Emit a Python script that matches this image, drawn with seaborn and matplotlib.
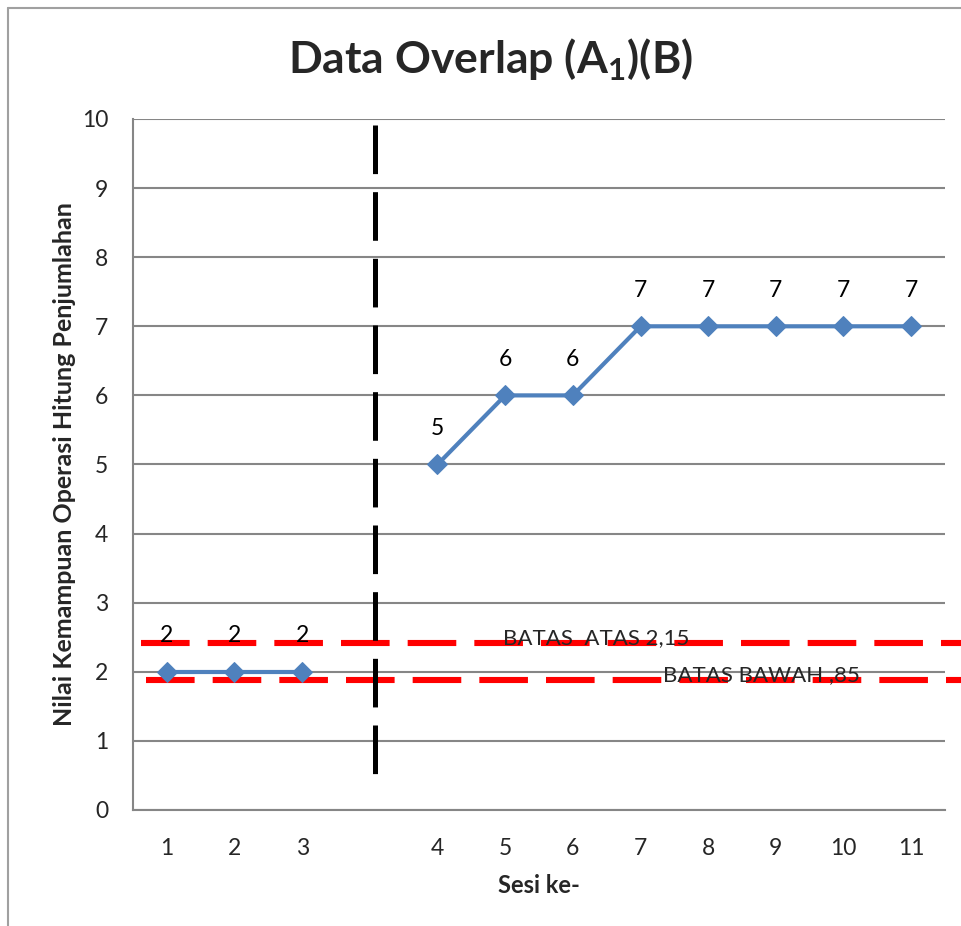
import numpy as np
import pandas as pd
import matplotlib
matplotlib.use("Agg")
import matplotlib.pyplot as plt
import seaborn as sns
from matplotlib.lines import Line2D

# ---- data ----
session_labels = ["1", "2", "3", "", "4", "5", "6", "7", "8", "9", "10", "11"]
scores = [2, 2, 2, np.nan, 5, 6, 6, 7, 7, 7, 7, 7]
phase = ["A1", "A1", "A1", "gap", "B", "B", "B", "B", "B", "B", "B", "B"]
upper_limit = 2.42
lower_limit = 1.88
upper_label = "BATAS  ATAS 2,15"
lower_label = "BATAS BAWAH ,85"
phase_divider = 3.08
title = "Data Overlap (A$_{\\mathbf{1}}$)(B)"
xlabel = "Sesi ke-"
ylabel = "Nilai Kemampuan Operasi Hitung Penjumlahan"

sns.set_style("white")
plt.rcParams["font.family"] = ["Lato", "DejaVu Sans"]
plt.rcParams["mathtext.fontset"] = "custom"
plt.rcParams["mathtext.rm"] = "Lato:bold"
plt.rcParams["mathtext.bf"] = "Lato:bold"
plt.rcParams["lines.scale_dashes"] = False

W, H = 961, 926
fig = plt.figure(figsize=(W / 100, H / 100), dpi=100)
ax = fig.add_axes([133 / W, 1 - 810 / H, (945 - 133) / W, (810 - 119) / H])

df = pd.DataFrame({"x": np.arange(len(scores)), "y": scores, "phase": phase})
df = df.dropna()
sns.lineplot(data=df, x="x", y="y", units="phase", estimator=None, ax=ax,
             color="#4F81BD", linewidth=3.0, marker="D", markersize=10,
             markeredgecolor="#4F81BD", zorder=4)

ax.set_xlim(-0.5, len(scores) - 0.5)
ax.set_ylim(0, 10)
ax.set_yticks(range(0, 11))
ax.set_xticks(np.arange(len(scores)))
ax.set_xticklabels(session_labels)
ax.set_xticks(np.arange(-0.5, len(scores)), minor=True)
ax.tick_params(axis="x", which="major", length=0, pad=20, labelsize=16.5)
ax.tick_params(axis="x", which="minor", length=6, width=1.5, color="#868686", direction="out")
ax.tick_params(axis="y", length=6, width=1.5, color="#868686", labelsize=16.5, pad=12)

ax.grid(axis="y", color="#868686", linewidth=1.5)
ax.set_axisbelow(True)
for s in ["top", "right"]:
    ax.spines[s].set_visible(False)
for s in ["left", "bottom"]:
    ax.spines[s].set_color("#868686")
    ax.spines[s].set_linewidth(1.5)

# data labels
for xi, yi in zip(np.arange(len(scores)), scores):
    if not np.isnan(yi):
        ax.annotate(f"{int(yi)}", (xi, yi), xytext=(0, 26), textcoords="offset points",
                    ha="center", va="center", fontsize=16.5, color="black", zorder=5)

# limit lines (extend past plot to the right edge)
ax.plot([-0.38, 11.75], [upper_limit, upper_limit], color="#FF0000", linewidth=4.4,
        dashes=(35, 13), clip_on=False, zorder=3)
ax.plot([-0.31, 11.75], [lower_limit, lower_limit], color="#FF0000", linewidth=4.4,
        dashes=(35, 13), clip_on=False, zorder=3)
ax.text(4.97, upper_limit - 0.02, upper_label, fontsize=16, ha="left", va="baseline", zorder=6)
ax.text(7.33, lower_limit - 0.02, lower_label, fontsize=16, ha="left", va="baseline", zorder=6)

# phase divider
ax.plot([phase_divider, phase_divider], [9.91, 0.29], color="black", linewidth=3.6,
        dashes=(35, 13), zorder=3)

ax.set_xlabel(xlabel, fontsize=17, fontweight="bold", labelpad=11)
ax.set_ylabel(ylabel, fontsize=18, fontweight="bold", labelpad=4)
fig.text(490 / W, 1 - 60 / H, title, fontsize=32, fontweight="bold", ha="center", va="center")

# chart frame
fig.add_artist(Line2D([8 / W, 8 / W], [0, 1 - 8 / H], color="#A0A0A0", linewidth=1.5))
fig.add_artist(Line2D([8 / W, 1], [1 - 8 / H, 1 - 8 / H], color="#A0A0A0", linewidth=1.5))

fig.savefig("out.png", dpi=100)
